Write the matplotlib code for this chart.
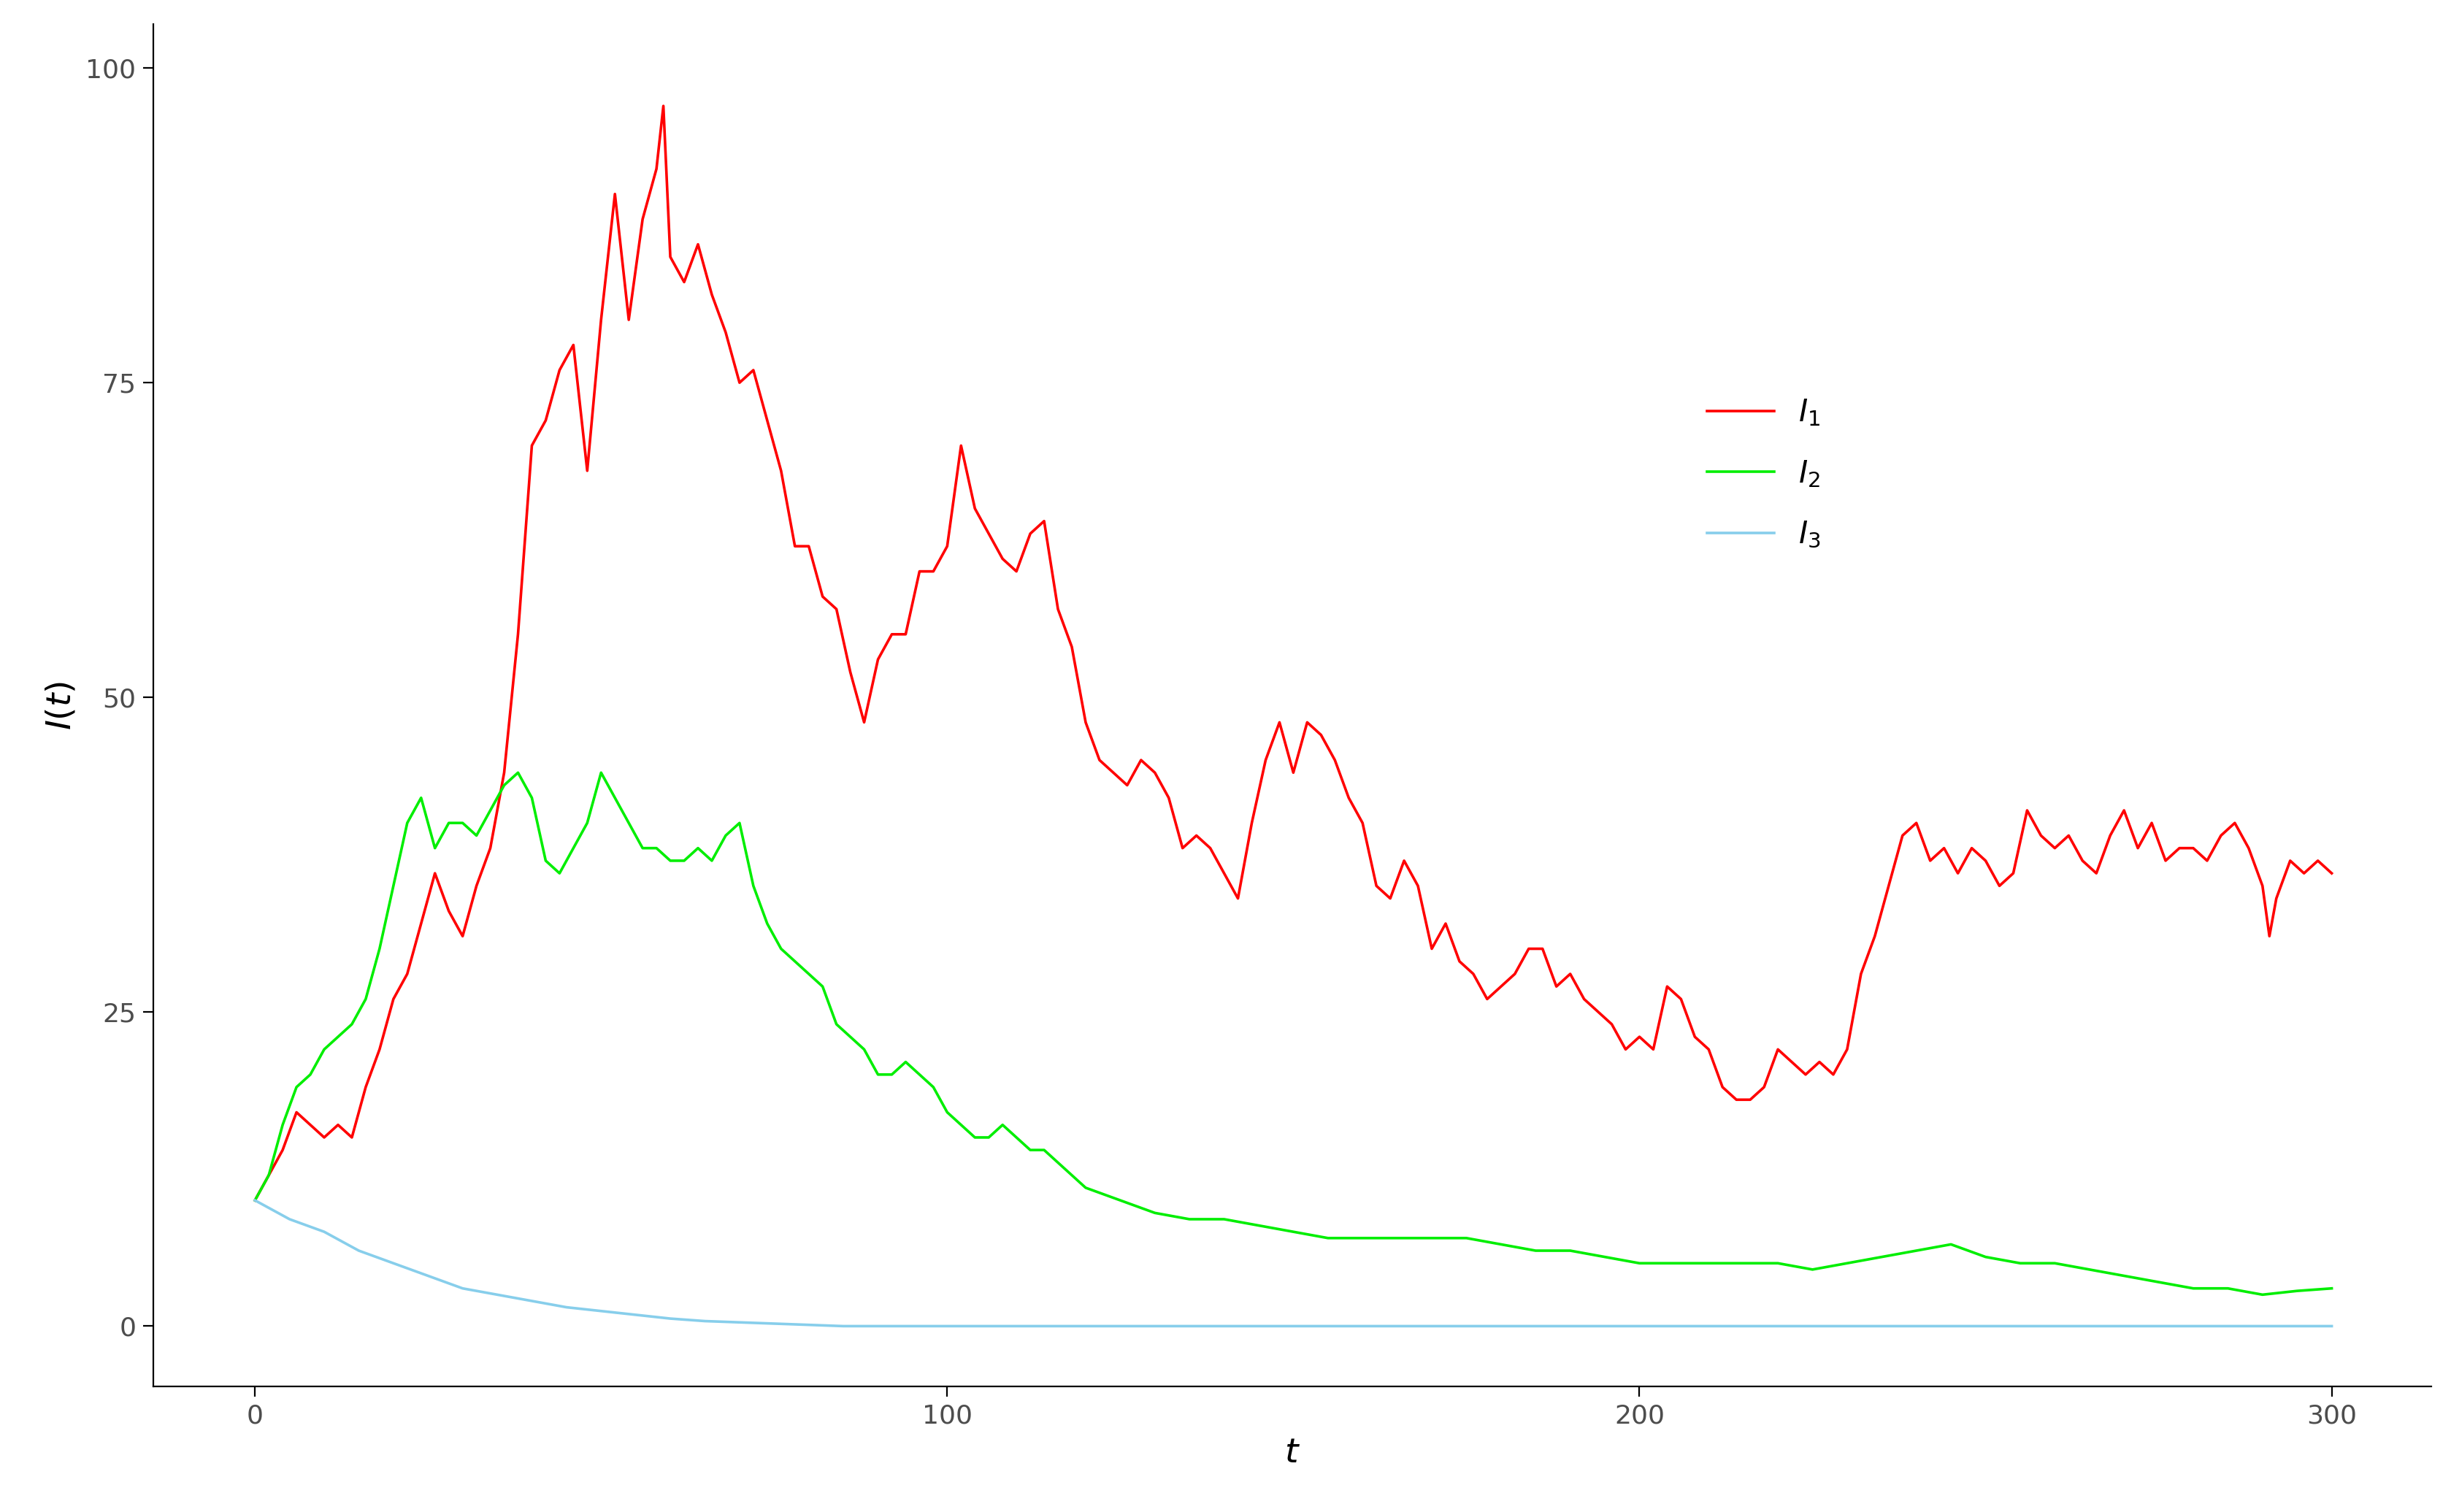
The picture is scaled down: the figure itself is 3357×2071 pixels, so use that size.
import matplotlib
matplotlib.use("Agg")
import matplotlib.pyplot as plt

t1 = [0,2,4,6,8,10,12,14,16,18,20,22,24,26,28,30,32,34,36,38,40,42,44,46,48,50,52,54,56,58,59,60,62,64,66,68,70,72,74,76,78,80,82,84,86,88,90,92,94,96,98,100,102,104,106,108,110,112,114,116,118,120,122,124,126,128,130,132,134,136,138,140,142,144,146,148,150,152,154,156,158,160,162,164,166,168,170,172,174,176,178,180,182,184,186,188,190,192,194,196,198,200,202,204,206,208,210,212,214,216,218,220,222,224,226,228,230,232,234,236,238,240,242,244,246,248,250,252,254,256,258,260,262,264,266,268,270,272,274,276,278,280,282,284,286,288,290,291,292,294,296,298,300]
I1 = [10,12,14,17,16,15,16,15,19,22,26,28,32,36,33,31,35,38,44,55,70,72,76,78,68,80,90,80,88,92,97,85,83,86,82,79,75,76,72,68,62,62,58,57,52,48,53,55,55,60,60,62,70,65,63,61,60,63,64,57,54,48,45,44,43,45,44,42,38,39,38,36,34,40,45,48,44,48,47,45,42,40,35,34,37,35,30,32,29,28,26,27,28,30,30,27,28,26,25,24,22,23,22,27,26,23,22,19,18,18,19,22,21,20,21,20,22,28,31,35,39,40,37,38,36,38,37,35,36,41,39,38,39,37,36,39,41,38,40,37,38,38,37,39,40,38,35,31,34,37,36,37,36]

t2 = [0,2,4,6,8,10,12,14,16,18,20,22,24,26,28,30,32,34,36,38,40,42,44,46,48,50,52,54,56,58,60,62,64,66,68,70,72,74,76,78,80,82,84,86,88,90,92,94,96,98,100,102,104,106,108,110,112,114,116,118,120,125,130,135,140,145,150,155,160,165,170,175,180,185,190,195,200,205,210,215,220,225,230,235,240,245,250,255,260,265,270,275,280,285,290,295,300]
I2 = [10,12,16,19,20,22,23,24,26,30,35,40,42,38,40,40,39,41,43,44,42,37,36,38,40,44,42,40,38,38,37,37,38,37,39,40,35,32,30,29,28,27,24,23,22,20,20,21,20,19,17,16,15,15,16,15,14,14,13,12,11,10,9,8.5,8.5,8,7.5,7,7,7,7,7,6.5,6,6,5.5,5,5,5,5,5,4.5,5,5.5,6,6.5,5.5,5,5,4.5,4,3.5,3,3,2.5,2.8,3]

t3 = [0,5,10,15,20,25,30,35,40,45,50,55,60,65,70,75,80,85,300]
I3 = [10,8.5,7.5,6,5,4,3,2.5,2,1.5,1.2,0.9,0.6,0.4,0.3,0.2,0.1,0,0]

fig = plt.figure(figsize=(16.785, 10.355), dpi=200)
ax = fig.add_axes([0.0625, 0.083, 0.9295, 0.901])
ax.plot(t1, I1, color="#FF0000", lw=1.3, label=r"$I_1$")
ax.plot(t2, I2, color="#00EE00", lw=1.3, label=r"$I_2$")
ax.plot(t3, I3, color="#87CEEB", lw=1.3, label=r"$I_3$")
ax.set_xlim(-14.7, 314.4)
ax.set_ylim(-4.8, 103.5)
ax.set_xticks([0, 100, 200, 300])
ax.set_yticks([0, 25, 50, 75, 100])
for s in ["top", "right"]:
    ax.spines[s].set_visible(False)
ax.tick_params(labelsize=13, colors="black", labelcolor="#4d4d4d", length=5)
ax.set_xlabel(r"$t$", fontsize=17)
ax.set_ylabel(r"$I(t)$", fontsize=17)
ax.legend(loc="center left", bbox_to_anchor=(0.67, 0.67), frameon=False,
          fontsize=15, handlelength=2.2, labelspacing=1.0)
fig.savefig("out.png", dpi=200)
